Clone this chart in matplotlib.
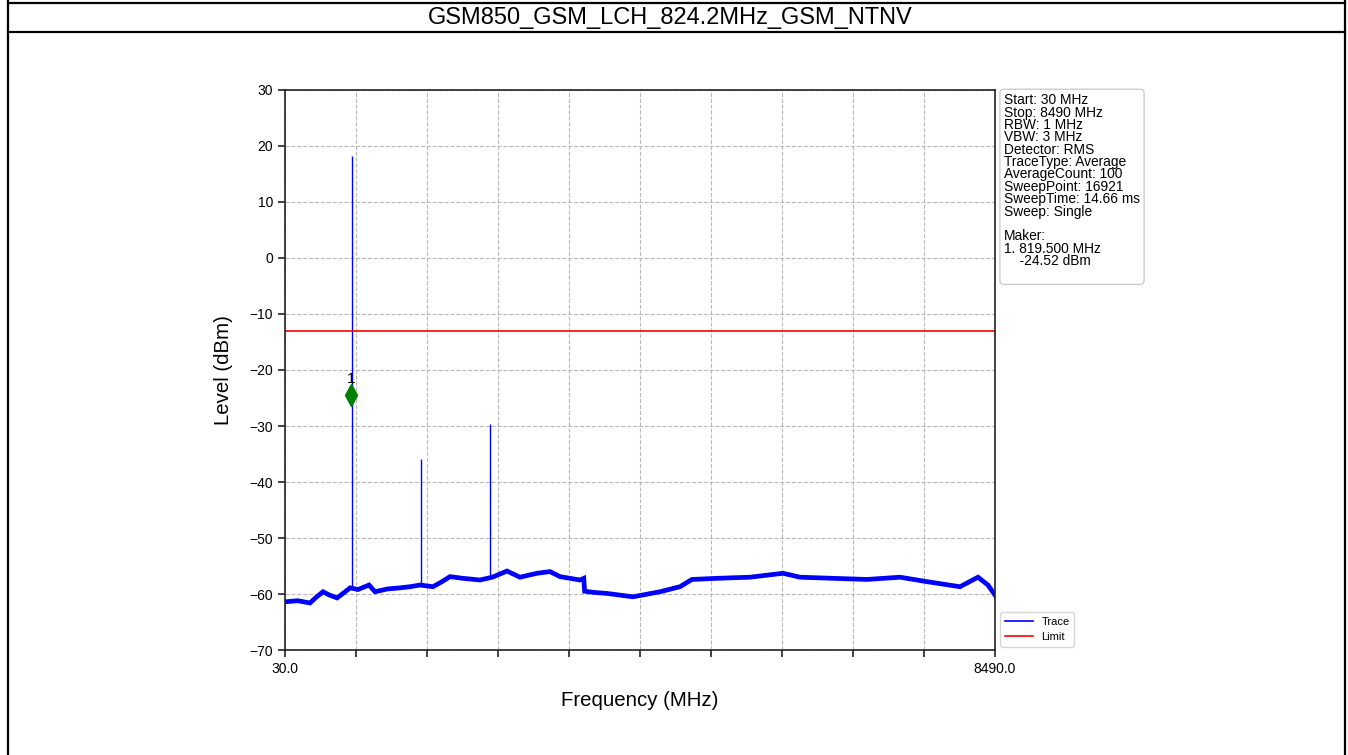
import matplotlib
matplotlib.use('Agg')
import matplotlib.pyplot as plt
from matplotlib.lines import Line2D
import numpy as np

plt.rcParams['font.family'] = ['Liberation Sans', 'DejaVu Sans']

title = 'GSM850_GSM_LCH_824.2MHz_GSM_NTNV'

# noise floor of the averaged sweep (MHz, dBm)
floor_freq = [30, 180, 328, 400, 483, 560, 650, 730, 805, 900, 1031, 1102, 1250,
              1400, 1520, 1639, 1793, 1900, 1996, 2150, 2353, 2500, 2675, 2830,
              3033, 3187, 3307, 3545, 3590, 3600, 3700, 3867, 4176, 4498, 4736,
              4879, 5177, 5570, 5964, 6166, 6559, 6964, 7358, 7680, 8073, 8287,
              8406, 8490]
floor_level = [-61.4, -61.2, -61.6, -60.6, -59.6, -60.2, -60.7, -59.8, -58.9,
               -59.2, -58.4, -59.6, -59.1, -58.9, -58.7, -58.4, -58.7, -57.8,
               -56.9, -57.2, -57.5, -57.0, -55.9, -57.0, -56.3, -56.0, -56.9,
               -57.5, -57.2, -59.5, -59.7, -59.9, -60.5, -59.6, -58.7, -57.4,
               -57.2, -57.0, -56.3, -57.0, -57.2, -57.4, -57.0, -57.8, -58.7,
               -57.0, -58.4, -60.2]

# carrier and harmonics
peak_freq = [824.2, 1648.4, 2472.6]
peak_level = [18.2, -35.9, -29.6]
peak_base = [-59.0, -58.6, -57.3]

limit_level = -13.0
marker_freq = 819.5
marker_level = -24.52

info = ('Start: 30 MHz\nStop: 8490 MHz\nRBW: 1 MHz\nVBW: 3 MHz\nDetector: RMS\n'
        'TraceType: Average\nAverageCount: 100\nSweepPoint: 16921\n'
        'SweepTime: 14.66 ms\nSweep: Single\n\nMaker:\n1. 819.500 MHz\n'
        '    -24.52 dBm\n')

W, H = 1348, 755
fig = plt.figure(figsize=(W / 100, H / 100), dpi=100)

# table frame around the chart
lk = dict(color='black', lw=1.6, transform=fig.transFigure)
fig.add_artist(Line2D([8 / W, 8 / W], [0, 1], **lk))
fig.add_artist(Line2D([1345 / W, 1345 / W], [0, 1], **lk))
fig.add_artist(Line2D([8 / W, 1345 / W], [1 - 3 / H, 1 - 3 / H], **lk))
fig.add_artist(Line2D([8 / W, 1345 / W], [1 - 32 / H, 1 - 32 / H], **lk))
fig.text(670 / W, 1 - 18 / H, title, ha='center', va='center', fontsize=17)

ax = fig.add_axes([285 / W, 105 / H, 710 / W, 560 / H])
ax.plot(floor_freq, floor_level, color='#0000ff', lw=3.4, solid_joinstyle='miter')
ax.vlines(peak_freq, peak_base, peak_level, color='#0000ff', lw=1.0)
ax.axhline(limit_level, color='#ff0000', lw=1.2)
ax.plot([marker_freq], [marker_level], marker='d', color='#008000',
        markersize=11, linestyle='none')
ax.text(marker_freq, marker_level + 1.6, '1', ha='center', va='bottom', fontsize=11)

ax.set_xlim(30, 8490)
ax.set_ylim(-70, 30)
xt = np.linspace(30, 8490, 11)
ax.set_xticks(xt)
ax.set_xticklabels(['30.0'] + [''] * 9 + ['8490.0'])
ax.set_yticks(range(-70, 31, 10))
ax.tick_params(labelsize=10, length=5, width=1.2, color='#222222')
ax.grid(True, color='#b8b8b8', linestyle='--', lw=0.8)
for s in ax.spines.values():
    s.set_color('#222222')
    s.set_linewidth(1.2)

ax.set_xlabel('Frequency (MHz)', fontsize=14.7, labelpad=11)
ax.set_ylabel('Level (dBm)', fontsize=14.7, labelpad=12)

ax.text(1.0127, 0.994, info, transform=ax.transAxes, ha='left', va='top',
        fontsize=9.9, linespacing=0.85,
        bbox=dict(boxstyle='round,pad=0.3', fc='white', ec='#cccccc', lw=1))

handles = [Line2D([], [], color='#0000ff', lw=1.2), Line2D([], [], color='#ff0000', lw=1.2)]
ax.legend(handles, ['Trace', 'Limit'], loc='lower left', bbox_to_anchor=(1.003, 0.0),
          fontsize=8, frameon=True, borderaxespad=0.3, handlelength=2.5)

fig.savefig('out.png', dpi=100)
